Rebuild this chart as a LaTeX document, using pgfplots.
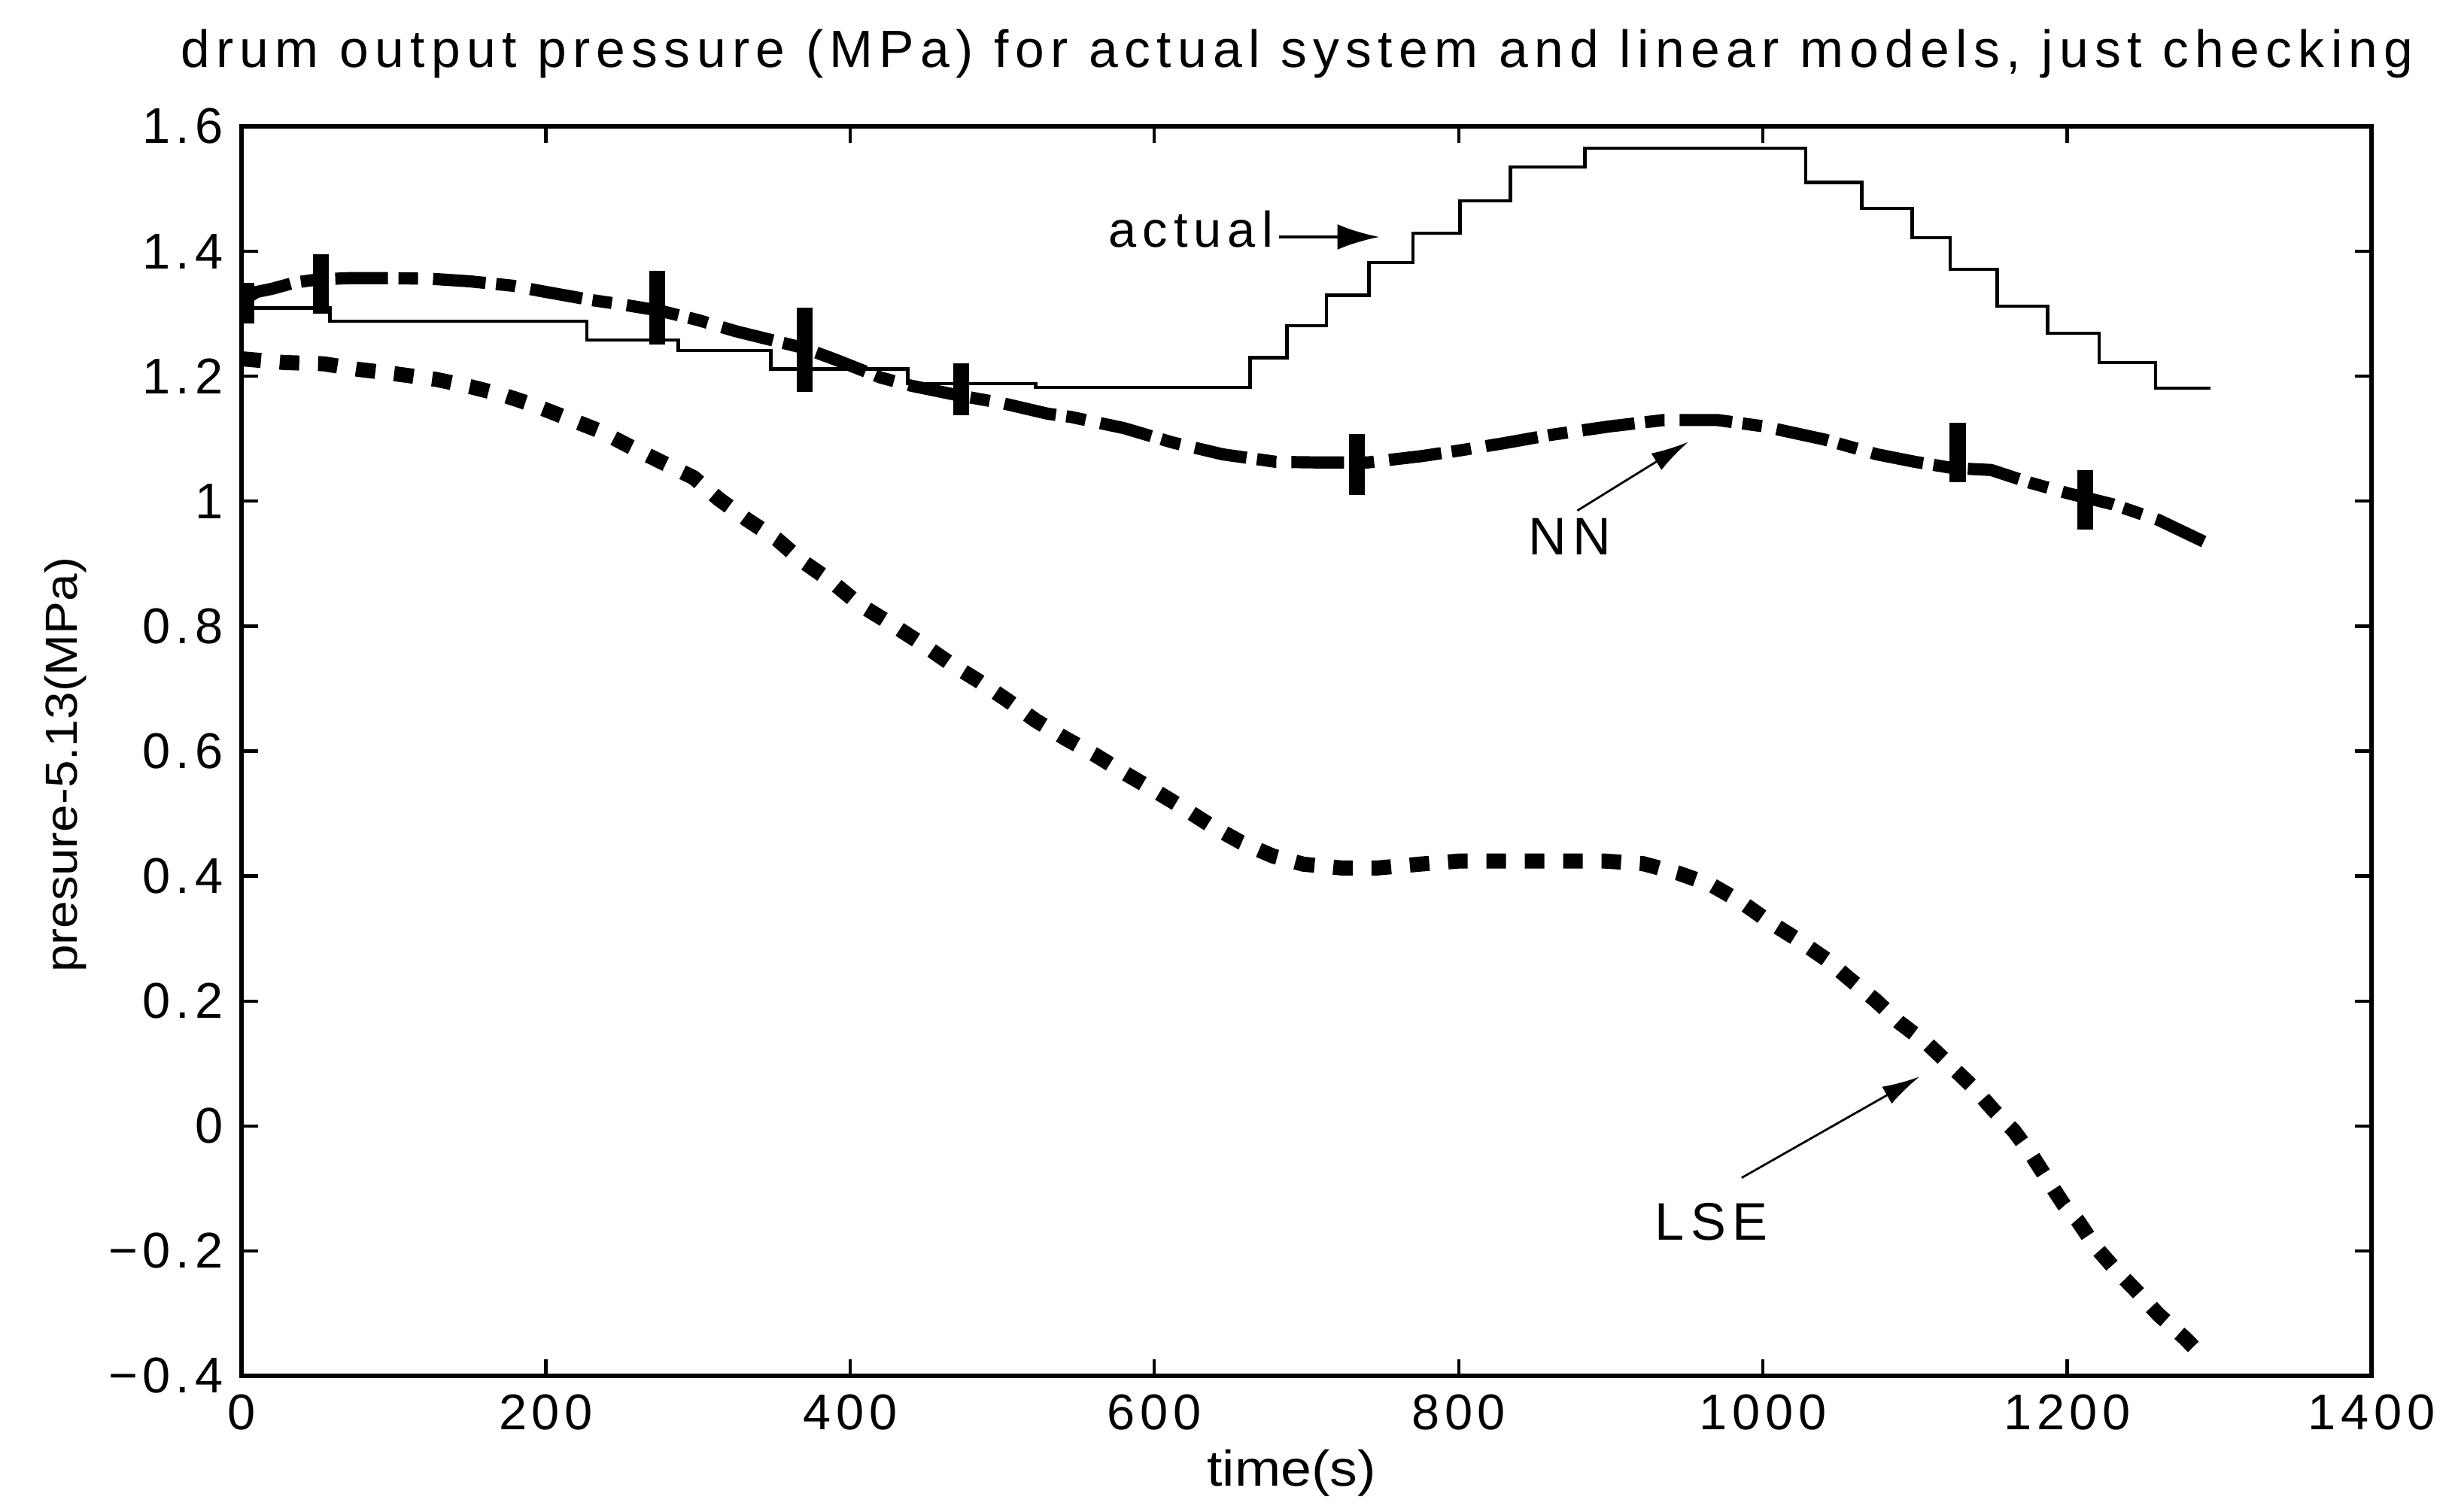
\documentclass[border=0pt]{standalone}
\usepackage{fontspec}
\setmainfont{Liberation Sans}
\newfontfamily\titlefont[LetterSpace=12]{Liberation Sans}
\newfontfamily\tickfont[LetterSpace=10]{Liberation Sans}
\newfontfamily\labelfont[FakeStretch=1.1]{Liberation Sans}
\usepackage{pgfplots}
\pgfplotsset{compat=1.18}
\usetikzlibrary{arrows.meta}

\begin{document}
\begin{tikzpicture}
\useasboundingbox (-1.605,-0.9) rectangle (14.65,9.145);
\begin{axis}[
  at={(0,0)}, anchor=south west,
  scale only axis, width=14.155cm, height=8.305cm,
  xmin=0, xmax=1400, ymin=-0.4, ymax=1.6,
  clip mode=individual,
  xtick={0,200,400,600,800,1000,1200,1400},
  xticklabels={0,200,400,600,800,1000,1200,1400},
  ytick={-0.4,-0.2,0,0.2,0.4,0.6,0.8,1,1.2,1.4,1.6},
  yticklabels={−0.4,−0.2,0,0.2,0.4,0.6,0.8,1,1.2,1.4,1.6},
  tick align=inside, xtick pos=both, ytick pos=both,
  major tick length=0.11cm,
  axis line style={line width=0.8pt},
  tick style={line width=0.6pt, black},
  ticklabel style={font={\tickfont\fontsize{9.5pt}{11pt}\selectfont}},
  unbounded coords=jump,
]
% actual system (step)
\addplot[const plot, black, line width=0.65pt] coordinates {
(0,1.309) (58,1.288) (227,1.258) (287,1.241) (348,1.212) (438,1.188)
(522,1.182) (663,1.230) (687,1.281) (713,1.330) (741,1.382) (770,1.429)
(801,1.481) (834,1.535) (883,1.565) (1028,1.510) (1065,1.469) (1098,1.422)
(1123,1.371) (1154,1.312) (1187,1.269) (1221,1.222) (1258,1.181) (1294,1.181)
};
% NN model
\addplot[black, line width=2.3pt, line cap=butt,
  dash pattern=on 0.35cm off 0.07cm on 0.13cm off 0.1cm] coordinates {
(0,1.32) (10,1.335) (20,1.34) (35,1.35) (50,1.355) (70,1.357) (100,1.357)
(125,1.356) (150,1.352) (178,1.345) (200,1.335) (230,1.322) (250,1.315)
(275,1.305) (300,1.29) (325,1.272) (345,1.26) (370,1.245) (390,1.227)
(420,1.198) (440,1.185) (470,1.17) (500,1.157) (530,1.14) (545,1.135)
(580,1.117) (612,1.094) (645,1.075) (680,1.063) (710,1.062) (740,1.062)
(775,1.072) (800,1.081) (830,1.093) (860,1.106) (900,1.12) (935,1.13)
(970,1.13) (1000,1.12) (1040,1.099) (1075,1.075) (1100,1.063) (1125,1.053)
(1150,1.05) (1175,1.03) (1200,1.013) (1230,0.995) (1260,0.97) (1290,0.935)
};
% NN transients
\addplot[black, line width=3pt] coordinates {
(3,1.35) (3,1.285) (3,nan)
(52,1.395) (52,1.30) (52,nan)
(273,1.369) (273,1.251) (273,nan)
(370,1.31) (370,1.175) (370,nan)
(473,1.221) (473,1.138) (473,nan)
(733,1.107) (733,1.010) (733,nan)
(1128,1.125) (1128,1.03) (1128,nan)
(1212,1.05) (1212,0.955)
};
% LSE model
\addplot[black, line width=0.1cm, line cap=butt,
  dash pattern=on 0.13cm off 0.125cm] coordinates {
(0,1.228) (28,1.222) (54,1.22) (77,1.211) (101,1.204) (128,1.195) (151,1.183)
(172,1.17) (192,1.154) (213,1.134) (236,1.112) (255,1.088) (275,1.064)
(297,1.038) (314,1.003) (332,0.971) (352,0.939) (368,0.905) (387,0.873)
(406,0.835) (428,0.802) (447,0.772) (466,0.74) (484,0.713) (503,0.682)
(522,0.649) (541,0.621) (561,0.594) (579,0.567) (600,0.537) (619,0.509)
(637,0.481) (657,0.454) (678,0.432) (698,0.419) (723,0.413) (747,0.413)
(774,0.419) (800,0.424) (845,0.424) (896,0.424) (921,0.42) (944,0.405)
(966,0.386) (986,0.358) (1004,0.327) (1023,0.298) (1042,0.266) (1057,0.235)
(1074,0.201) (1090,0.165) (1108,0.132) (1124,0.095) (1139,0.06) (1152,0.024)
(1165,-0.008) (1177,-0.048) (1187,-0.086) (1198,-0.127) (1207,-0.152)
(1218,-0.192) (1231,-0.228) (1245,-0.263) (1260,-0.302) (1277,-0.339) (1290,-0.371)
};
% annotations
\node[font={\titlefont\fontsize{9.5pt}{11pt}\selectfont}] at (axis cs:624,1.435) {actual};
\draw[-{Latex[length=0.28cm,width=0.17cm]}, line width=0.6pt] (axis cs:682,1.423) -- (axis cs:748,1.423);
\node[font={\titlefont\fontsize{10pt}{12pt}\selectfont}] at (axis cs:873,0.943) {NN};
\draw[-{Latex[length=0.25cm,width=0.13cm]}, line width=0.4pt] (axis cs:878,0.985) -- (axis cs:951,1.095);
\node[font={\titlefont\fontsize{10pt}{12pt}\selectfont}] at (axis cs:966,-0.153) {LSE};
\draw[-{Latex[length=0.25cm,width=0.13cm]}, line width=0.4pt] (axis cs:986,-0.083) -- (axis cs:1103,0.079);
% title and labels
\node[font={\titlefont\fontsize{9.9pt}{11pt}\selectfont}] at (axis description cs:0.4956,1.058) {drum output pressure (MPa) for actual system and linear models, just checking};
\node[font={\labelfont\fontsize{9.5pt}{11pt}\selectfont}] at (axis description cs:0.493,-0.078) {time(s)};
\node[rotate=90, font={\labelfont\fontsize{8.5pt}{10pt}\selectfont}] at (axis description cs:-0.0827,0.489) {presure-5.13(MPa)};
\end{axis}
\end{tikzpicture}
\end{document}
